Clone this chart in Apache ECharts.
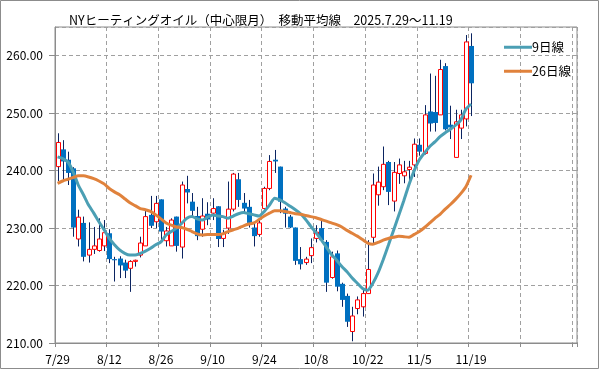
<!DOCTYPE html>
<html><head><meta charset="utf-8">
<script src="https://cdn.jsdelivr.net/npm/echarts@6/dist/echarts.min.js"></script>
<style>html,body{margin:0;padding:0;background:#fff}#c{width:599px;height:369px}</style>
</head><body><div id="c"></div>
<script>
const titleText = 'NYヒーティングオイル（中心限月）　移動平均線　2025.7.29～11.19';
const dates = ['7/29','7/30','7/31','8/1','8/4','8/5','8/6','8/7','8/8','8/11',
'8/12','8/13','8/14','8/15','8/18','8/19','8/20','8/21','8/22','8/25',
'8/26','8/27','8/28','8/29','9/2','9/3','9/4','9/5','9/8','9/9',
'9/10','9/11','9/12','9/15','9/16','9/17','9/18','9/19','9/22','9/23',
'9/24','9/25','9/26','9/29','9/30','10/1','10/2','10/3','10/6','10/7',
'10/8','10/9','10/10','10/13','10/14','10/15','10/16','10/17','10/20','10/21',
'10/22','10/23','10/24','10/27','10/28','10/29','10/30','10/31','11/3','11/4',
'11/5','11/6','11/7','11/10','11/11','11/12','11/13','11/14','11/17','11/18',
'11/19'];
const emptySlots = 20;
const openP = [240.7,243.7,241.9,240.4,228.1,230.9,225.3,226.3,226.1,226.9,
229.1,224.6,224.7,224.0,223.0,224.2,225.3,226.9,232.3,231.1,
235.0,227.8,226.9,232.0,226.7,236.8,234.6,232.1,229.8,232.5,
232.6,233.8,228.2,230.0,233.3,238.5,234.4,233.7,230.1,228.9,
233.4,236.9,241.9,240.7,233.4,232.0,230.1,224.6,224.0,225.2,
228.2,230.0,227.6,221.4,225.6,220.3,218.2,212.0,216.0,216.3,
218.6,228.4,235.8,237.2,241.5,234.7,239.5,239.1,240.2,241.0,
244.5,243.0,250.3,250.2,249.7,258.2,248.0,242.3,247.4,249.0,
261.7];
const closeP = [244.9,241.6,239.6,230.1,231.9,225.0,226.3,226.9,228.1,229.2,
224.6,224.4,223.5,222.6,224.2,224.4,227.4,232.0,230.4,234.3,
229.4,229.5,231.4,226.9,237.5,236.2,233.0,228.6,232.1,231.5,
233.4,228.1,229.1,233.3,239.4,234.9,233.4,230.9,228.6,230.9,
236.9,241.6,241.6,234.6,232.5,230.1,224.3,223.7,224.6,226.6,
229.3,227.9,220.5,225.0,219.8,217.5,213.7,214.7,217.5,218.6,
222.8,237.5,238.0,241.1,236.3,239.7,241.0,239.8,240.6,244.6,
243.3,249.7,248.2,248.3,257.6,247.2,247.5,248.5,249.7,262.4,
255.2];
const highP = [246.5,245.3,243.3,240.6,233.2,232.0,231.0,230.2,231.7,231.4,
229.8,225.0,225.1,224.5,224.4,224.5,228.5,233.2,235.6,235.6,
235.0,230.2,231.7,232.0,238.1,239.1,236.1,233.7,235.2,234.5,
235.2,233.8,229.7,238.1,239.6,239.6,236.1,234.9,230.8,231.7,
237.2,242.7,243.6,240.7,233.7,232.3,230.1,226.7,225.0,228.2,
230.5,231.7,227.9,225.9,226.1,220.5,218.6,216.3,218.1,219.5,
227.9,239.5,240.7,244.2,241.7,241.5,242.1,241.7,241.7,245.6,
245.6,251.4,256.9,256.5,259.3,258.7,251.3,250.6,250.6,263.6,
263.9];
const lowP = [238.2,238.3,237.5,228.5,226.8,224.2,224.0,225.5,225.9,226.0,
223.9,220.7,221.3,221.3,218.9,223.3,224.9,226.9,230.0,230.0,
227.6,226.8,226.9,225.9,224.7,234.3,232.0,227.9,228.5,230.5,
231.4,226.7,226.7,229.0,232.9,233.7,232.6,230.1,226.8,228.5,
233.2,236.6,239.6,232.6,230.1,230.0,223.6,222.8,223.6,223.9,
227.5,227.6,218.9,221.2,219.0,216.3,212.8,210.3,215.0,214.6,
218.6,227.4,233.9,236.6,234.0,232.9,237.7,237.8,238.0,238.9,
242.6,242.8,246.8,246.8,249.7,247.0,245.5,242.3,245.5,247.7,
249.5];
const ma9 = [242.4,242.1,241.5,239.8,237.5,235.8,234.0,232.6,231.1,229.7,
228.2,227.1,226.2,225.6,225.3,225.3,225.6,226.0,226.5,227.1,
227.6,228.8,229.4,230.0,230.8,231.7,232.0,231.6,231.4,231.9,
232.3,232.1,232.0,231.7,232.1,232.5,232.7,232.5,232.3,232.1,
232.9,234.0,235.2,234.9,234.4,233.8,233.2,232.5,231.5,230.3,
229.2,228.0,226.7,225.4,224.4,223.3,222.4,221.3,220.4,219.5,
219.2,220.4,222.2,224.5,227.0,229.6,232.2,234.8,237.6,240.0,
241.9,243.1,244.2,245.0,245.9,246.6,247.2,247.9,248.8,250.7,
251.6];
const ma26 = [237.8,238.2,238.5,238.8,239.1,239.1,238.9,238.6,238.2,237.7,
236.9,236.3,235.8,235.1,234.4,233.9,233.4,233.2,232.9,232.3,
231.6,230.9,230.5,230.2,230.1,229.8,229.4,229.0,228.8,228.9,
228.9,228.9,229.0,229.4,229.7,230.0,230.4,230.7,230.9,231.5,
232.1,232.6,233.0,233.0,232.9,232.7,232.5,232.4,232.2,232.0,
231.8,231.5,231.2,230.9,230.6,230.2,229.6,229.1,228.6,228.0,
227.4,227.2,227.5,227.9,228.2,228.4,228.6,228.5,228.4,228.9,
229.4,230.1,230.9,231.7,232.4,233.3,234.1,235.0,236.0,237.2,
239.2];
const yMin = 210, yMax = 265, yStep = 10;

const cats = dates.concat(new Array(emptySlots).fill(''));
const candleData = dates.map((d, i) => [i, openP[i], closeP[i], lowP[i], highP[i]]);

const chart = echarts.init(document.getElementById('c'), null, {renderer: 'canvas'});
const FONT = '"Noto Sans CJK JP", "Noto Sans", sans-serif';
chart.setOption({
  animation: false,
  backgroundColor: '#fff',
  title: {text: titleText, left: 64, top: 9, textStyle: {fontSize: 12.5, fontWeight: 'normal', color: '#000', fontFamily: FONT}},
  legend: [
    {data: ['9日線'], left: 499, top: 36, orient: 'vertical', icon: 'rect', itemWidth: 28, itemHeight: 3, itemGap: 0,
     textStyle: {fontSize: 12.5, color: '#000', fontFamily: FONT, padding: [0,0,0,-5]}},
    {data: ['26日線'], left: 499, top: 60, orient: 'vertical', icon: 'rect', itemWidth: 28, itemHeight: 3, itemGap: 0,
     textStyle: {fontSize: 12.5, color: '#000', fontFamily: FONT, padding: [0,0,0,-5]}}
  ],
  grid: {left: 55, right: 22, top: 27, bottom: 26, show: true, borderColor: '#8c8c8c', borderWidth: 1, containLabel: false},
  xAxis: {
    type: 'category', data: cats, boundaryGap: true,
    axisLine: {lineStyle: {color: '#8c8c8c'}},
    axisTick: {show: true, length: 4, interval: (i) => i % 10 === 0, lineStyle: {color: '#8c8c8c'}},
    axisLabel: {interval: (i) => i % 10 === 0, color: '#000', fontSize: 12, fontFamily: FONT, margin: 10},
    splitLine: {show: true, interval: (i) => i % 10 === 0, lineStyle: {color: '#a0a0a0', type: [4, 3], width: 1}}
  },
  yAxis: {
    type: 'value', min: yMin, max: yMax, interval: yStep,
    axisLine: {show: true, lineStyle: {color: '#8c8c8c'}},
    axisTick: {show: true, length: 6, lineStyle: {color: '#8c8c8c'}},
    axisLabel: {color: '#000', fontSize: 12, fontFamily: FONT, margin: 12, showMaxLabel: false, formatter: v => v.toFixed(2)},
    splitLine: {show: true, lineStyle: {color: '#a0a0a0', type: [4, 3], width: 1}}
  },
  series: [
    {
      name: 'candle', type: 'custom', data: candleData,
      encode: {x: 0, y: [1, 2, 3, 4]},
      renderItem: function (params, api) {
        const i = api.value(0), o = api.value(1), c = api.value(2), l = api.value(3), h = api.value(4);
        const po = api.coord([i, o]), pc = api.coord([i, c]), pl = api.coord([i, l]), ph = api.coord([i, h]);
        const cx = Math.round(po[0]) + 0.5;
        const w = 4;
        const top = Math.min(po[1], pc[1]), bot = Math.max(po[1], pc[1]);
        const up = c >= o;
        const children = [{
          type: 'line', shape: {x1: cx, y1: ph[1], x2: cx, y2: pl[1]},
          style: {stroke: '#0b2461', lineWidth: 1}
        }];
        if (up) {
          children.push({type: 'rect', shape: {x: cx - w / 2, y: top, width: w, height: Math.max(bot - top, 1)},
            style: {fill: '#fff', stroke: '#ff0000', lineWidth: 1}});
        } else {
          children.push({type: 'rect', shape: {x: cx - w / 2 - 0.5, y: top, width: w + 1, height: Math.max(bot - top, 1)},
            style: {fill: '#0070c0', stroke: null}});
        }
        return {type: 'group', children: children};
      },
      z: 2
    },
    {name: '9日線', type: 'line', data: ma9, symbol: 'none', smooth: 0.2, color: '#4b9fb4',
     lineStyle: {width: 3, color: '#4b9fb4'}, z: 3},
    {name: '26日線', type: 'line', data: ma26, symbol: 'none', smooth: 0.2, color: '#e0823c',
     lineStyle: {width: 3, color: '#e0823c'}, z: 3}
  ],
  graphic: [{type: 'rect', shape: {x: 0.5, y: 0.5, width: 598, height: 368}, style: {fill: null, stroke: '#8c8c8c', lineWidth: 1}, silent: true}]
});
</script></body></html>
